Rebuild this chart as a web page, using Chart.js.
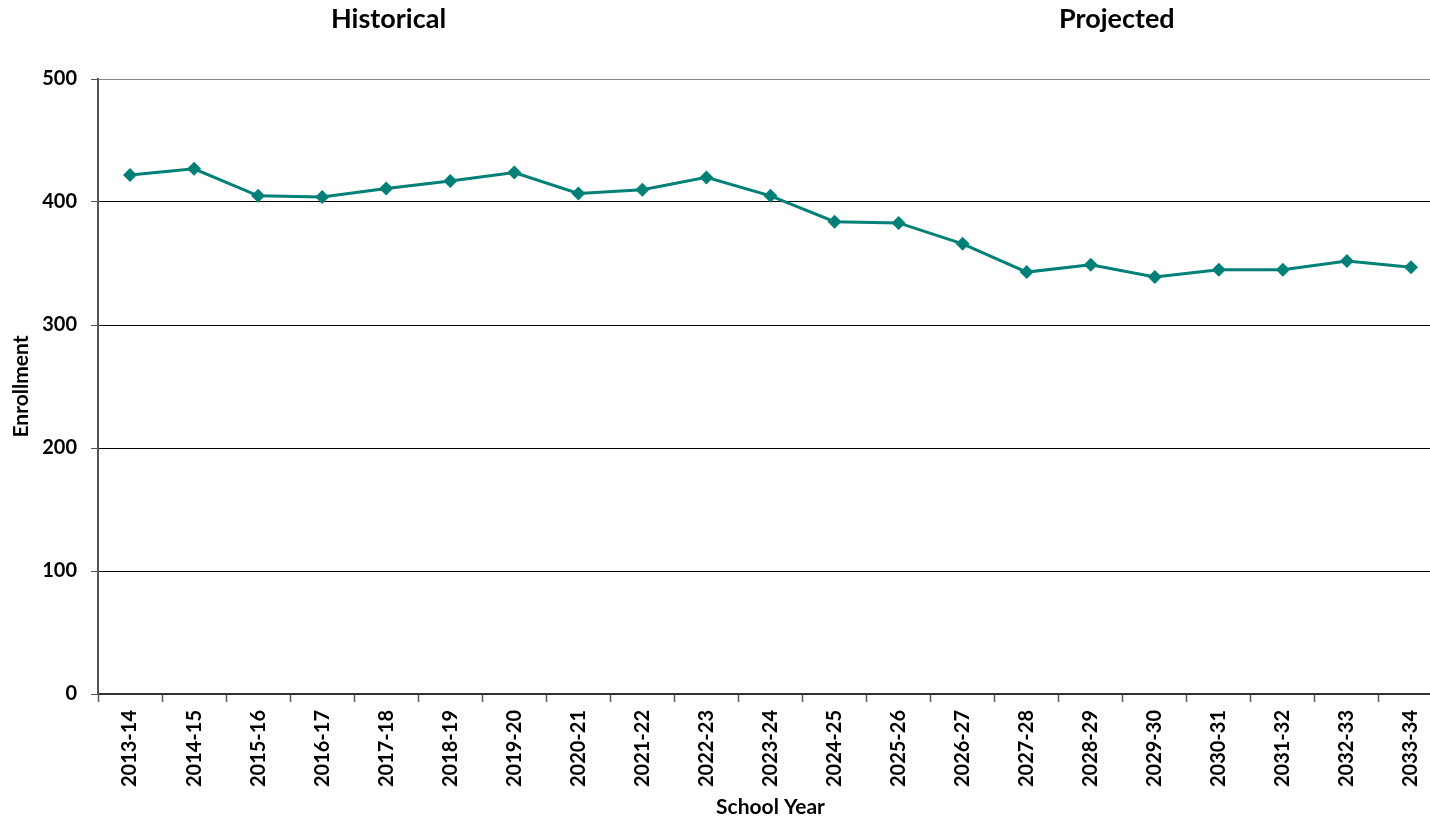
<!DOCTYPE html>
<html><head><meta charset="utf-8">
<script src="https://cdn.jsdelivr.net/npm/chart.js@4"></script>
<style>
html,body{margin:0;padding:0;background:#fff;overflow:hidden;width:1430px;height:822px}
#wrap{width:1450px;height:822px}
</style></head>
<body><div id="wrap"><canvas id="c" width="1450" height="822"></canvas></div>
<script>
const schoolYears = ['2013-14','2014-15','2015-16','2016-17','2017-18','2018-19','2019-20','2020-21','2021-22','2022-23','2023-24','2024-25','2025-26','2026-27','2027-28','2028-29','2029-30','2030-31','2031-32','2032-33','2033-34'];
const enrollment = [422,427,405,404,411,417,424,407,410,420,405,384,383,366,343,349,339,345,345,352,347];
const yMin = 0, yMax = 500, yStep = 100;
const periodLabels = ['Historical','Projected'];
const periodPositions = [0.216, 0.7575];

const FONT = 'Lato';
const lineColor = '#008076';

const periodPlugin = {
  id: 'periods',
  afterDraw(chart) {
    const {ctx, chartArea} = chart;
    const w = chartArea.right - chartArea.left;
    ctx.save();
    ctx.font = 'bold 27px ' + FONT;
    ctx.fillStyle = '#000';
    ctx.textAlign = 'center';
    ctx.textBaseline = 'middle';
    periodLabels.forEach((t, i) => ctx.fillText(t, chartArea.left + periodPositions[i] * w, 19));
    ctx.restore();
  }
};

new Chart(document.getElementById('c'), {
  type: 'line',
  data: {
    labels: schoolYears,
    datasets: [{
      data: enrollment,
      borderColor: lineColor,
      backgroundColor: lineColor,
      borderWidth: 3,
      pointStyle: 'rectRot',
      pointRadius: 7,
      pointHoverRadius: 7,
      pointBorderWidth: 0,
      tension: 0,
      fill: false
    }]
  },
  options: {
    responsive: false,
    animation: false,
    devicePixelRatio: 1,
    layout: {padding: {top: 79, left: 0, right: 0, bottom: 0}},
    plugins: {legend: {display: false}, tooltip: {enabled: false}, title: {display: false}},
    scales: {
      x: {
        type: 'category',
        offset: true,
        grid: {offset: true, drawOnChartArea: false, drawTicks: true, tickLength: 8, tickColor: '#555', tickWidth: 1.5},
        border: {display: true, color: '#333', width: 2},
        ticks: {minRotation: 90, maxRotation: 90, autoSkip: false, padding: 8, color: '#000', font: {family: FONT, size: 20, weight: 'bold'}},
        title: {display: true, text: 'School Year', color: '#000', font: {family: FONT, size: 21, weight: 'bold'}, padding: {top: 0, bottom: 2}},
        afterFit(s) { s.height = 128; }
      },
      y: {
        min: yMin, max: yMax,
        ticks: {stepSize: yStep, padding: 14, color: '#000', font: {family: FONT, size: 20, weight: 'bold'}},
        grid: {color: c => (c.tick && c.tick.value === yMax) ? '#888' : '#000', lineWidth: 1, tickLength: 7, tickColor: '#555'},
        border: {display: true, color: '#555', width: 2},
        title: {display: true, text: 'Enrollment', color: '#000', font: {family: FONT, size: 21, weight: 'bold'}, padding: {top: 9, bottom: 0}},
        afterFit(s) { s.width = 98; }
      }
    }
  },
  plugins: [periodPlugin]
});
</script>
</body></html>
